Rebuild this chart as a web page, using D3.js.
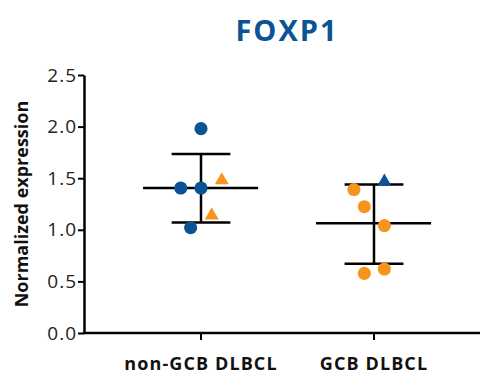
<!DOCTYPE html>
<html>
<head>
<meta charset="utf-8">
<script src="https://cdn.jsdelivr.net/npm/d3@7"></script>
<style>
  body { margin: 0; background: #fff; }
  svg { font-family: "Open Sans", Lato, sans-serif; }
</style>
</head>
<body>
<div id="chart"></div>
<script>
var categories = ["non-GCB DLBCL", "GCB DLBCL"];
var yTicks = [0, 0.5, 1.0, 1.5, 2.0, 2.5];

// points: group index, value, jitter (fraction of group spacing), colour, shape
var pointGroup  = [0, 0, 0, 0, 0, 0,   1, 1, 1, 1, 1, 1];
var pointValue  = [1.98, 1.405, 1.405, 1.02, 1.48, 1.14,   1.466, 1.39, 1.224, 1.04, 0.62, 0.578];
var pointJitter = [0, -0.117, 0, -0.06, 0.12, 0.062,   0.06, -0.116, -0.056, 0.06, 0.06, -0.056];
var pointColor  = ["blue", "blue", "blue", "blue", "orange", "orange",   "blue", "orange", "orange", "orange", "orange", "orange"];
var pointShape  = ["circle", "circle", "circle", "circle", "triangle", "triangle",   "triangle", "circle", "circle", "circle", "circle", "circle"];

var groupMean = [1.405, 1.063];
var groupSdHi = [1.735, 1.44];
var groupSdLo = [1.07, 0.672];

var colors = {blue: "#0b5394", orange: "#f7941d"};

var width = 486, height = 376;
var svg = d3.select("#chart").append("svg")
    .attr("width", width)
    .attr("height", height);

var y = d3.scaleLinear().domain([0, 2.5]).range([333, 75]);
var x = d3.scaleLinear().domain([0, 1]).range([201, 374]);
var axisLeftX = 84, axisRightX = 480;

// title
svg.append("text")
    .attr("x", 287).attr("y", 41)
    .attr("text-anchor", "middle")
    .attr("fill", "#0b5394")
    .style("font-size", "29px")
    .style("letter-spacing", "2px")
    .style("font-weight", "bold")
    .text("FOXP1");

// y axis
var yAxis = svg.append("g")
    .attr("transform", "translate(" + axisLeftX + ",0)")
    .call(d3.axisLeft(y).tickValues(yTicks).tickFormat(d3.format(".1f")).tickSize(6).tickSizeOuter(0));
yAxis.select(".domain").attr("stroke", "#000").attr("stroke-width", 2.5);
yAxis.selectAll(".tick line").attr("stroke-width", 2);
yAxis.selectAll(".tick text")
    .attr("x", -7)
    .attr("fill", "#222")
    .style("font-size", "19px")
    .style("letter-spacing", "1px")
    .style("font-family", "'Open Sans', sans-serif");

// x axis
svg.append("line")
    .attr("x1", axisLeftX - 1).attr("x2", axisRightX)
    .attr("y1", y(0)).attr("y2", y(0))
    .attr("stroke", "#000").attr("stroke-width", 2.5);
categories.forEach(function (c, i) {
    svg.append("line")
        .attr("x1", x(i)).attr("x2", x(i))
        .attr("y1", y(0)).attr("y2", y(0) + 7)
        .attr("stroke", "#000").attr("stroke-width", 2);
    svg.append("text")
        .attr("x", x(i)).attr("y", 370)
        .attr("text-anchor", "middle")
        .attr("fill", "#111")
        .style("font-size", "18px")
        .style("letter-spacing", "1.1px")
        .style("font-weight", "bold")
        .text(c);
});

// y axis label
svg.append("text")
    .attr("transform", "translate(28," + y(1.25) + ") rotate(-90)")
    .attr("text-anchor", "middle")
    .attr("fill", "#111")
    .style("font-size", "18px")
    .style("font-weight", "bold")
    .text("Normalized expression");

// mean and SD bars
var spacing = x(1) - x(0);
categories.forEach(function (c, i) {
    var cx = x(i);
    var g = svg.append("g").attr("stroke", "#000").attr("stroke-width", 2.5);
    g.append("line").attr("x1", cx).attr("x2", cx)
        .attr("y1", y(groupSdHi[i])).attr("y2", y(groupSdLo[i]));
    g.append("line").attr("x1", cx - spacing * 0.335).attr("x2", cx + spacing * 0.33)
        .attr("y1", y(groupMean[i])).attr("y2", y(groupMean[i]));
    [groupSdHi[i], groupSdLo[i]].forEach(function (v) {
        g.append("line").attr("x1", cx - spacing * 0.17).attr("x2", cx + spacing * 0.17)
            .attr("y1", y(v)).attr("y2", y(v));
    });
});

// points
var pts = pointValue.map(function (v, i) {
    return {g: pointGroup[i], v: v, j: pointJitter[i], c: pointColor[i], s: pointShape[i]};
});
svg.selectAll(".pt").data(pts).enter()
    .append("path")
    .attr("class", "pt")
    .attr("d", function (d) {
        return d.s === "circle"
            ? d3.symbol().type(d3.symbolCircle).size(135)()
            : d3.symbol().type(d3.symbolTriangle).size(85)();
    })
    .attr("transform", function (d) {
        return "translate(" + x(d.g + d.j) + "," + y(d.v) + ")";
    })
    .attr("fill", function (d) { return colors[d.c]; });
</script>
</body>
</html>
